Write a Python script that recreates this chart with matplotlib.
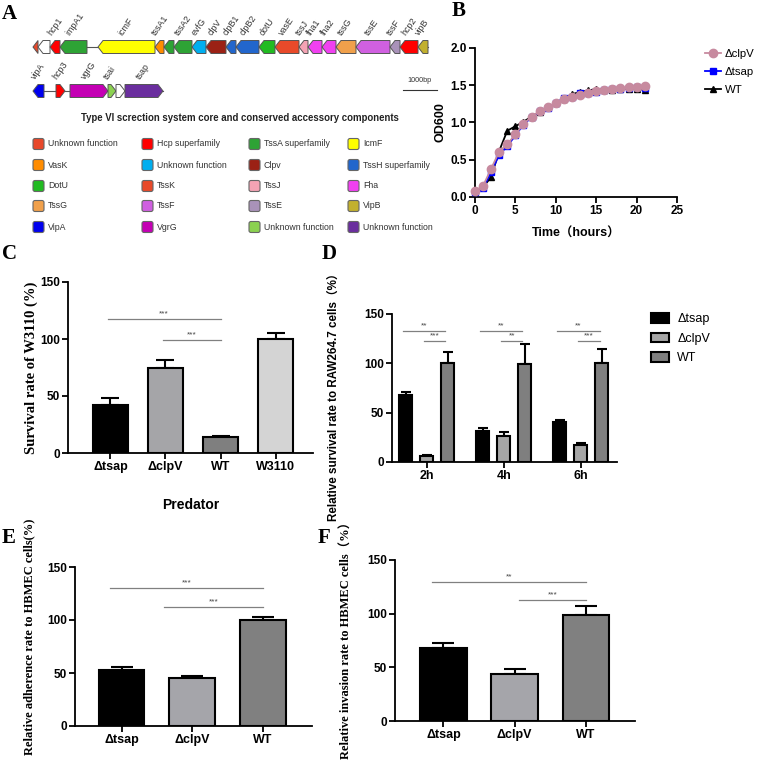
import matplotlib
matplotlib.use('Agg')
import matplotlib.pyplot as plt
from matplotlib.patches import Polygon, FancyBboxPatch, Patch
from matplotlib.lines import Line2D

# ---------------- DATA ----------------
# Panel A: gene map (map units; 34 units = 1000 bp)
row1_names = ['', '', 'hcp1', 'impA1', 'icmF', 'tssA1', '', 'tssA2', 'evfG', 'clpV', 'clpB1', 'clpB2',
              'dotU', 'vasE', 'tssJ', 'fha1', 'fha2', 'tssG', 'tssE', 'tssF', 'hcp2', 'vipB']
row1_start = [33, 38, 50, 60, 98, 155, 164, 174, 192, 206, 226, 236, 259, 275, 299, 308, 322, 336, 356, 390, 400, 418]
row1_end = [38, 50, 60, 87, 155, 164, 174, 192, 206, 226, 236, 259, 275, 299, 308, 322, 336, 356, 390, 400, 418, 428]
row1_colors = ['#E8482A', '#FFFFFF', '#FF0000', '#2EA335', '#FFFF00', '#FF8C00', '#2EA335', '#2EA335',
               '#00AEEF', '#9B2115', '#2266CC', '#2266CC', '#22BB22', '#E84A2A', '#F4A3B4', '#F040F0',
               '#F040F0', '#F0A04B', '#D060E0', '#A992B9', '#FF0000', '#C2B02E']
row2_names = ['vipA', 'hcp3', 'vgrG', 'tsai', '', 'tsap']
row2_start = [33, 56, 70, 108, 116, 125]
row2_end = [44, 65, 108, 116, 125, 163]
row2_strand = [-1, 1, 1, 1, 1, 1]
row2_colors = ['#0000EE', '#FF0000', '#C400B4', '#8BD150', '#FFFFFF', '#6A2E9E']

legend_labels = [
    ['Unknown function', 'VasK', 'DotU', 'TssG', 'VipA'],
    ['Hcp superfamily', 'Unknown function', 'TssK', 'TssF', 'VgrG'],
    ['TssA superfamily', 'Clpv', 'TssJ', 'TssE', 'Unknown function'],
    ['IcmF', 'TssH superfamily', 'Fha', 'VipB', 'Unknown function'],
]
legend_colors = [
    ['#E8482A', '#FF8C00', '#22BB22', '#F0A04B', '#0000EE'],
    ['#FF0000', '#00AEEF', '#E84A2A', '#D060E0', '#C400B4'],
    ['#2EA335', '#9B2115', '#F4A3B4', '#A992B9', '#8BD150'],
    ['#FFFF00', '#2266CC', '#F040F0', '#C2B02E', '#6A2E9E'],
]

# Panel B: growth curves
time_h = list(range(22))
od_clpv = [0.08, 0.15, 0.38, 0.61, 0.71, 0.84, 0.98, 1.08, 1.15, 1.21, 1.26, 1.31, 1.34, 1.37, 1.39, 1.42,
           1.44, 1.45, 1.46, 1.47, 1.48, 1.49]
od_tsap = [0.07, 0.12, 0.33, 0.57, 0.68, 0.83, 0.97, 1.07, 1.15, 1.20, 1.26, 1.33, 1.34, 1.39, 1.40, 1.41,
           1.43, 1.45, 1.45, 1.46, 1.47, 1.46]
od_wt = [0.08, 0.13, 0.27, 0.62, 0.89, 0.95, 1.01, 1.08, 1.14, 1.21, 1.26, 1.32, 1.38, 1.41, 1.43, 1.45,
         1.44, 1.44, 1.45, 1.45, 1.45, 1.44]

# Panel C
c_cats = ['Δtsap', 'ΔclpV', 'WT', 'W3110']
c_vals = [42, 75, 14, 100]
c_errs = [6, 6.5, 1, 5]
c_colors = ['#000000', '#A5A5A8', '#7F7F7F', '#D4D4D4']

# Panel D
d_groups = ['2h', '4h', '6h']
d_series = ['Δtsap', 'ΔclpV', 'WT']
d_tsap = [68, 31, 41]
d_tsap_err = [3, 3.5, 2]
d_clpv = [6, 26, 17]
d_clpv_err = [1, 4, 2]
d_wt = [100, 99, 100]
d_wt_err = [11.5, 21, 14.5]
d_colors = ['#000000', '#A6A6A6', '#7F7F7F']

# Panel E
e_cats = ['Δtsap', 'ΔclpV', 'WT']
e_vals = [53, 45, 100]
e_errs = [2.5, 2.5, 2.5]
# Panel F
f_cats = ['Δtsap', 'ΔclpV', 'WT']
f_vals = [68, 44, 99]
f_errs = [4.5, 4.5, 8]
ef_colors = ['#000000', '#A5A5AA', '#808080']

# ---------------- FIGURE ----------------
W, H = 760, 770
fig = plt.figure(figsize=(7.6, 7.7), dpi=100)
SANS = ['Liberation Sans', 'DejaVu Sans']
SERIF = ['Liberation Serif', 'DejaVu Serif']
CJK_SANS = ['Liberation Sans', 'Noto Sans CJK SC']
CJK_SERIF = ['Liberation Serif', 'Noto Sans CJK SC']
plt.rcParams['font.family'] = SANS


def fax(x0, y0, x1, y1):
    return fig.add_axes([x0 / W, 1 - y1 / H, (x1 - x0) / W, (y1 - y0) / H])


def letter(x, y, s):
    fig.text(x / W, 1 - y / H, s, family=SERIF, weight='bold', fontsize=15, va='top', ha='left')


# ---------- Panel A ----------
axA = fax(0, 0, 470, 240)
axA.set_xlim(0, 470)
axA.set_ylim(240, 0)
axA.axis('off')

GH = 13
HEAD = 5


def gene(ax, s, e, y, strand, color):
    hl = min(HEAD, e - s)
    if strand < 0:
        pts = [(s, y), (s + hl, y - GH / 2), (e, y - GH / 2), (e, y + GH / 2), (s + hl, y + GH / 2)]
    else:
        pts = [(e, y), (e - hl, y - GH / 2), (s, y - GH / 2), (s, y + GH / 2), (e - hl, y + GH / 2)]
    ax.add_patch(Polygon(pts, closed=True, facecolor=color, edgecolor='#555555', lw=0.7, zorder=3))


def gene_row(ax, names, starts, ends, strands, colors, y):
    ax.plot([min(starts), max(ends)], [y, y], color='#555555', lw=0.8, zorder=1)
    for n, s, e, st, c in zip(names, starts, ends, strands, colors):
        gene(ax, s, e, y, st, c)
        if n:
            ax.text((s + e) / 2 - 2, y - GH / 2 - 3, n, rotation=55, rotation_mode='anchor',
                    ha='left', va='bottom', fontsize=6.4, color='#333333')


gene_row(axA, row1_names, row1_start, row1_end, [-1] * len(row1_names), row1_colors, 47)
gene_row(axA, row2_names, row2_start, row2_end, row2_strand, row2_colors, 91)

# scale bar
axA.plot([403, 437], [90, 90], color='#333333', lw=0.8)
axA.text(419, 80, '1000bp', fontsize=5.2, ha='center', va='center', color='#333333')

axA.text(240, 118, 'Type VI screction system core and conserved accessory components',
         fontsize=6.9, weight='bold', ha='center', va='center', color='#222222')
col_x = [33, 142, 249, 348]
row_y = [144, 165, 186, 206, 227]
for ci in range(4):
    for ri in range(5):
        x, y = col_x[ci], row_y[ri]
        axA.add_patch(FancyBboxPatch((x, y - 5.5), 11, 11, boxstyle='round,pad=0,rounding_size=2',
                                     facecolor=legend_colors[ci][ri], edgecolor='#666666', lw=0.8))
        axA.text(x + 15, y, legend_labels[ci][ri], fontsize=6.3, va='center', ha='left', color='#333333')

letter(2, 4, 'A')

# ---------- common styling ----------


def style(ax):
    for s in ['top', 'right']:
        ax.spines[s].set_visible(False)
    for s in ['left', 'bottom']:
        ax.spines[s].set_linewidth(1.3)
    ax.tick_params(width=1.3, length=4, labelsize=8.5, pad=2)
    for t in ax.get_xticklabels() + ax.get_yticklabels():
        t.set_fontweight('bold')


def sig(ax, x1, x2, y, txt):
    ax.plot([x1, x2], [y, y], color='#808080', lw=0.9, clip_on=False)
    ax.text((x1 + x2) / 2, y + 1.5, txt, ha='center', va='bottom', fontsize=6, color='#444444')


# ---------- Panel B ----------
axB = fax(475, 48, 677, 197)
axB.plot(time_h, od_wt, color='black', marker='^', ms=5, lw=1.3, label='WT', zorder=3, clip_on=False)
axB.plot(time_h, od_tsap, color='#0000FF', marker='s', ms=5, lw=1.3, label='Δtsap', zorder=4, clip_on=False)
axB.plot(time_h, od_clpv, color='#C78A9F', marker='o', ms=6, lw=1.3, label='ΔclpV', zorder=5, clip_on=False)
axB.set_xlim(0, 25)
axB.set_ylim(0, 2.0)
axB.set_xticks([0, 5, 10, 15, 20, 25])
axB.set_yticks([0, 0.5, 1.0, 1.5, 2.0])
axB.set_yticklabels(['0.0', '0.5', '1.0', '1.5', '2.0'])
style(axB)
axB.set_ylabel('OD600', fontsize=9, weight='bold')
axB.yaxis.set_label_coords(-29 / 202, 0.5)
axB.set_xlabel('Time（hours）', fontsize=9, weight='bold', family=CJK_SANS)
axB.xaxis.set_label_coords(0.5, -31 / 149)
handles = [Line2D([], [], color='#C78A9F', marker='o', ms=6, lw=1.3),
           Line2D([], [], color='#0000FF', marker='s', ms=5, lw=1.3),
           Line2D([], [], color='black', marker='^', ms=5, lw=1.3)]
fig.legend(handles, ['ΔclpV', 'Δtsap', 'WT'], loc='upper left', bbox_to_anchor=(705 / W, 1 - 49 / H),
           frameon=False, fontsize=8.2, handlelength=1.4, handletextpad=0.35, labelspacing=0.7,
           borderaxespad=0, borderpad=0)
letter(452, 1, 'B')


# ---------- bar helper ----------
def bars(ax, x, vals, errs, colors, width, cap):
    ax.bar(x, vals, width=width, color=colors, edgecolor='black', linewidth=1.5, zorder=2)
    ax.errorbar(x, vals, yerr=[[0] * len(vals), errs], fmt='none', ecolor='black', elinewidth=1.5,
                capsize=cap, capthick=1.5, zorder=1)


# ---------- Panel C ----------
axC = fax(68, 282, 313, 453)
xc = list(range(len(c_cats)))
bars(axC, xc, c_vals, c_errs, c_colors, 0.64, 6.5)
axC.set_xlim(-0.77, 3.68)
axC.set_ylim(0, 150)
axC.set_yticks([0, 50, 100, 150])
axC.set_xticks(xc)
axC.set_xticklabels(c_cats)
style(axC)
axC.tick_params(axis='x', labelsize=9)
axC.set_ylabel('Survival rate of W3110 (%)', family=SERIF, weight='bold', fontsize=10.5)
axC.yaxis.set_label_coords(-30 / 245, 0.5)
axC.set_xlabel('Predator', fontsize=10, weight='bold')
axC.xaxis.set_label_coords(0.5, -45 / 171)
sig(axC, -0.05, 2.0, 117.5, '***')
sig(axC, 0.95, 2.0, 99, '***')
letter(2, 244, 'C')

# ---------- Panel D ----------
axD = fax(392, 314, 617, 462)
off = 0.273
bw = 0.17
xs = list(range(len(d_groups)))
bars(axD, [x - off for x in xs], d_tsap, d_tsap_err, [d_colors[0]] * 3, bw, 3.5)
bars(axD, xs, d_clpv, d_clpv_err, [d_colors[1]] * 3, bw, 3.5)
bars(axD, [x + off for x in xs], d_wt, d_wt_err, [d_colors[2]] * 3, bw, 3.5)
axD.set_xlim(-0.45, 2.47)
axD.set_ylim(0, 150)
axD.set_yticks([0, 50, 100, 150])
axD.set_xticks(xs)
axD.set_xticklabels(d_groups)
style(axD)
axD.tick_params(axis='x', labelsize=9)
axD.set_ylabel('Relative survival rate to RAW264.7 cells（%）', family=CJK_SANS, weight='bold', fontsize=8.4)
axD.yaxis.set_label_coords(-52 / 225, 0.46)
for x, t2 in zip(xs, ['***', '**', '***']):
    sig(axD, x - off - 0.03, x + off - 0.03, 132.5, '**')
    sig(axD, x - 0.03, x + off - 0.03, 122.5, t2)
dh = [Patch(facecolor=c, edgecolor='black', linewidth=1.5) for c in d_colors]
fig.legend(dh, d_series, loc='upper left', bbox_to_anchor=(651 / W, 1 - 313 / H), frameon=False,
           fontsize=9, handlelength=1.4, handleheight=0.8, handletextpad=0.7, labelspacing=0.6,
           borderaxespad=0, borderpad=0)
letter(322, 244, 'D')

# ---------- Panel E ----------
axE = fax(75, 567, 312, 726)
xe = list(range(len(e_cats)))
bars(axE, xe, e_vals, e_errs, ef_colors, 0.65, 8)
axE.set_xlim(-0.66, 2.70)
axE.set_ylim(0, 150)
axE.set_yticks([0, 50, 100, 150])
axE.set_xticks(xe)
axE.set_xticklabels(e_cats)
style(axE)
axE.tick_params(axis='x', labelsize=9)
axE.set_ylabel('Relative adherence rate to HBMEC cells(%)', family=SERIF, weight='bold', fontsize=9)
axE.yaxis.set_label_coords(-40 / 237, 0.56)
sig(axE, -0.16, 2.0, 130, '***')
sig(axE, 0.6, 2.0, 112, '***')
letter(2, 528, 'E')

# ---------- Panel F ----------
axF = fax(395, 560, 635, 721)
xf = list(range(len(f_cats)))
bars(axF, xf, f_vals, f_errs, ef_colors, 0.65, 8)
axF.set_xlim(-0.68, 2.69)
axF.set_ylim(0, 150)
axF.set_yticks([0, 50, 100, 150])
axF.set_xticks(xf)
axF.set_xticklabels(f_cats)
style(axF)
axF.tick_params(axis='x', labelsize=9)
axF.set_ylabel('Relative invasion rate to HBMEC cells（%）', family=CJK_SERIF, weight='bold', fontsize=9)
axF.yaxis.set_label_coords(-42 / 240, 0.52)
sig(axF, -0.16, 2.0, 129.5, '**')
sig(axF, 1.06, 2.0, 112.5, '***')
letter(318, 528, 'F')

fig.savefig('out.png', dpi=100)
